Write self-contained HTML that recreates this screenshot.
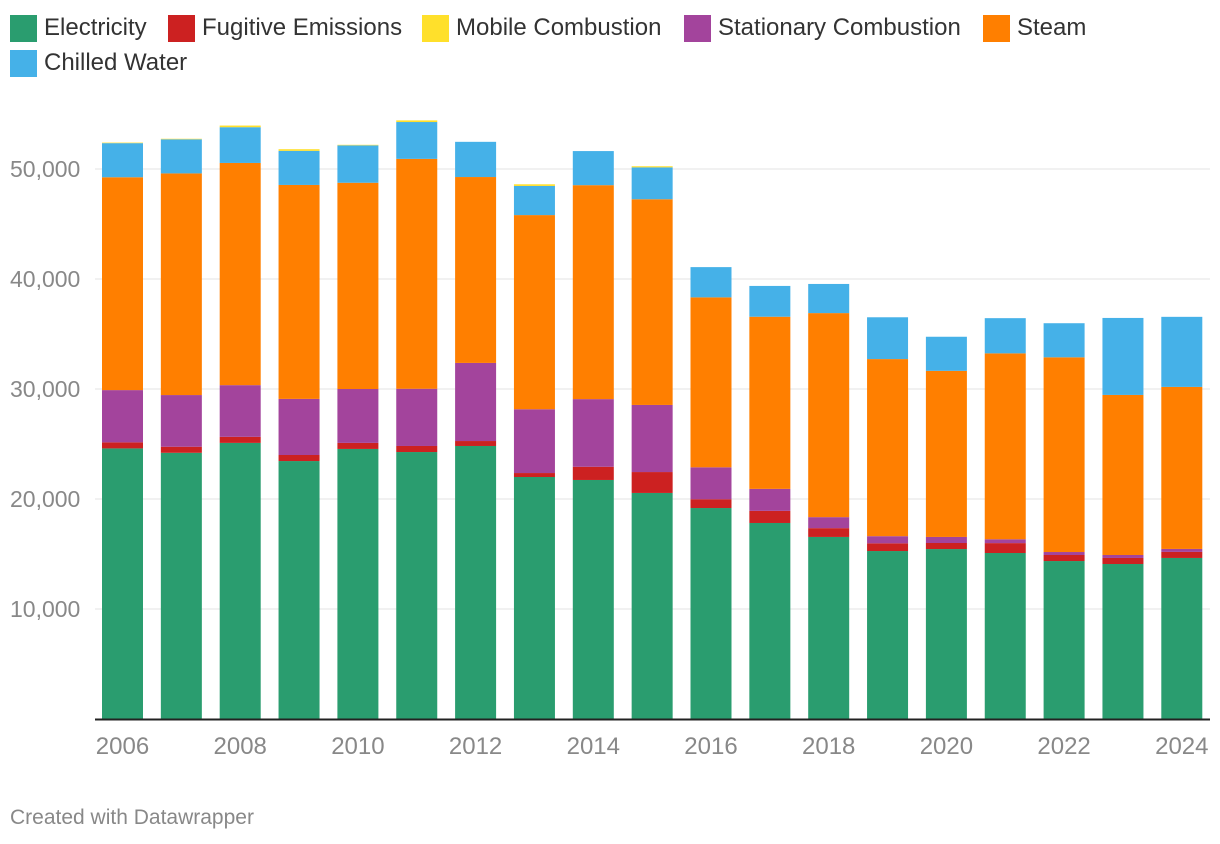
<!DOCTYPE html>
<html><head><meta charset="utf-8"><style>
body{margin:0;background:#fff;font-family:"Liberation Sans",Arial,sans-serif;}
#wrap{position:relative;width:1220px;height:844px;overflow:hidden}
.leg{position:absolute;display:flex;align-items:center;font-size:24px;color:#333}
.sw{width:27px;height:27px;margin-right:7px;display:inline-block}
#footer{position:absolute;left:10px;top:806px;font-size:21px;color:#888}
</style></head><body><div id="wrap">
<div id="legend"></div>
<svg id="chart" width="1220" height="844" style="position:absolute;left:0;top:0"></svg>
<div id="footer">Created with Datawrapper</div>
</div>
<script>
const years=[2006,2007,2008,2009,2010,2011,2012,2013,2014,2015,2016,2017,2018,2019,2020,2021,2022,2023,2024];
const seriesNames=["Electricity","Fugitive Emissions","Stationary Combustion","Steam","Chilled Water","Mobile Combustion"];
const electricity=[24600,24200,25100,23450,24550,24270,24820,22000,21730,20550,19180,17820,16550,15270,15450,15090,14360,14090,14640];
const fugitive=[550,550,550,550,550,550,450,360,1200,1900,800,1100,800,700,550,900,550,550,550];
const stationary=[4750,4700,4700,5100,4900,5200,7100,5800,6150,6100,2900,2000,1000,650,550,350,270,270,270];
const steam=[19350,20150,20200,19450,18750,20900,16900,17650,19450,18700,15450,15650,18550,16100,15100,16900,17700,14550,14730];
const chilled=[3100,3100,3250,3100,3400,3350,3200,2650,3100,2900,2750,2800,2650,3800,3100,3200,3100,7000,6370];
const mobile=[50,50,150,150,50,150,0,150,0,100,0,0,0,0,0,0,0,0,0];
const yTicks=[10000,20000,30000,40000,50000];
const xTickYears=[2006,2008,2010,2012,2014,2016,2018,2020,2022,2024];
const colors=["#2a9d6f","#cc2121","#a3449c","#ff7f00","#45b1e8","#ffe02b"];
const series=[electricity,fugitive,stationary,steam,chilled,mobile];
const NS="http://www.w3.org/2000/svg";
const svg=document.getElementById('chart');
const y0=719,pxPer=110/10000;
const yScale=v=>y0-v*pxPer;
const xScale=i=>102+i*58.85;
const bw=41;
function mk(t,a){const e=document.createElementNS(NS,t);for(const k in a)e.setAttribute(k,a[k]);svg.appendChild(e);return e;}
yTicks.forEach(t=>{
  const l=mk('line',{x1:95,x2:1210,y1:yScale(t),y2:yScale(t),stroke:'#e3e3e3','stroke-width':1});
  
  
  const tx=mk('text',{x:10,y:yScale(t)+8,'font-size':23,fill:'#888','font-family':'Liberation Sans, sans-serif'});
  tx.textContent=t.toLocaleString('en-US');
  
  
});
years.forEach((yr,i)=>{
  let acc=0;
  series.forEach((s,k)=>{
    const v=s[i];if(v<=0)return;
    const r=mk('rect',{x:xScale(i),y:yScale(acc+v),width:bw,height:v*pxPer,fill:colors[k]});
    
    
    acc+=v;
  });
});
const ax=mk('line',{x1:95,x2:1210,y1:y0+0.5,y2:y0+0.5,stroke:'#222','stroke-width':2});


xTickYears.forEach(yr=>{
  const i=years.indexOf(yr);
  const t=mk('text',{x:xScale(i)+bw/2,y:754,'font-size':24,fill:'#888','text-anchor':'middle','font-family':'Liberation Sans, sans-serif'});
  t.textContent=yr;
  
  
});
const legendItems=[["Electricity",colors[0],10,14],["Fugitive Emissions",colors[1],168,14],["Mobile Combustion",colors[5],422,14],["Stationary Combustion",colors[2],684,14],["Steam",colors[3],983,14],["Chilled Water",colors[4],10,49]];
const lg=document.getElementById('legend');
legendItems.forEach(it=>{
  const d=document.createElement('div');d.className='leg';
  d.style.left=it[2]+'px';d.style.top=it[3]+'px';
  
  
  d.innerHTML='<span class="sw" style="background:'+it[1]+'"></span>'+it[0];
  lg.appendChild(d);
});
</script></body></html>
